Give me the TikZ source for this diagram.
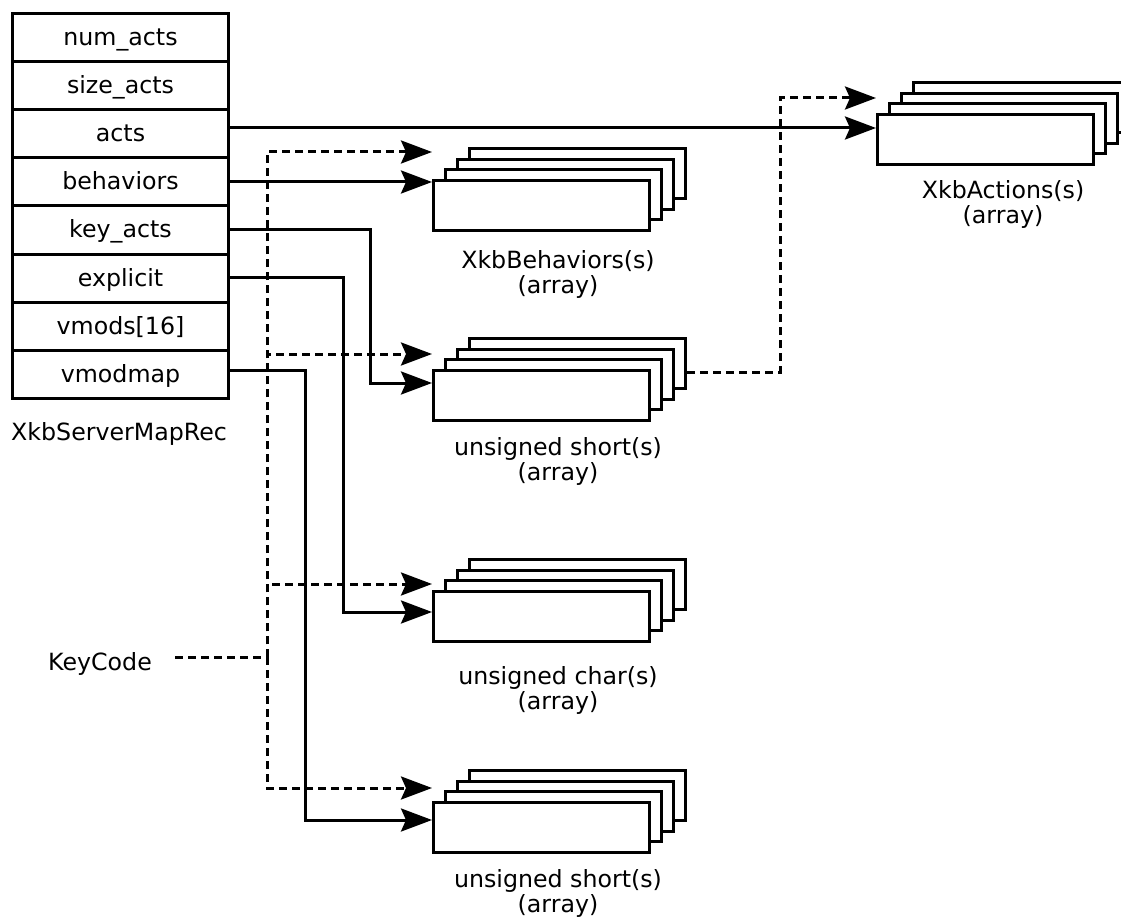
\documentclass[tikz,border=0pt]{standalone}
\usepackage{fontspec}
\setmainfont{DejaVu Sans}
\usetikzlibrary{arrows.meta}
\newcommand\drawstack[3]{%
  \foreach \k in {3,2,1,0} {%
    \node[sheet] (#1-\k) at ({#2+12*\k},{#3-10.67*\k}) {};%
  }%
}
\begin{document}
\begin{tikzpicture}[x=1pt,y=-1pt,
  every node/.style={font=\fontsize{23.7pt}{25pt}\selectfont},
  field/.style={draw, line width=3pt, minimum width=216pt, minimum height=48.1pt,
    inner sep=0pt, text height=16pt, text depth=0pt, anchor=north west},
  sheet/.style={draw, line width=3pt, fill=white, minimum width=216pt,
    minimum height=50pt, inner sep=0pt, anchor=north west},
  conn/.style={line width=3pt, -{Stealth[length=31pt,width=23pt,inset=5pt]}},
  dconn/.style={conn, dash pattern=on 8pt off 5pt},
  dline/.style={line width=3pt, dash pattern=on 8pt off 5pt},
  caption/.style={align=center, anchor=base, inner sep=0pt},
]
\useasboundingbox (0,0) rectangle (1121,920);

% record table
\node[field] (numacts)   at (11,12)    {num\_acts};
\node[field] (sizeacts)  at (11,60.1)  {size\_acts};
\node[field] (acts)      at (11,108.2) {acts};
\node[field] (behaviors) at (11,156.3) {behaviors};
\node[field] (keyacts)   at (11,204.4) {key\_acts};
\node[field] (explicit)  at (11,252.5) {explicit};
\node[field] (vmods)     at (11,300.6) {vmods[16]};
\node[field] (vmodmap)   at (11,348.7) {vmodmap};
\node[anchor=base west, inner sep=0pt] (rec) at (11,440) {XkbServerMapRec};

% stacks
\drawstack{act}{876}{113}
\drawstack{beh}{432}{179}
\drawstack{sh1}{432}{369}
\drawstack{ch}{432}{590}
\drawstack{sh2}{432}{801}

% captions (anchor = baseline of the last line)
\node[caption] (actcap) at (1003,223) {XkbActions(s)\\(array)};
\node[caption] (behcap) at (558,293) {XkbBehaviors(s)\\(array)};
\node[caption] (sh1cap) at (558,480) {unsigned short(s)\\(array)};
\node[caption] (chcap)  at (558,709) {unsigned char(s)\\(array)};
\node[caption] (sh2cap) at (558,912) {unsigned short(s)\\(array)};

% solid connectors
\draw[conn] (acts.east |- 0,128) -- (act-0.west |- 0,128);
\draw[conn] (behaviors.east |- 0,182) -- (beh-0.west |- 0,182);
\draw[conn] (keyacts.east |- 0,229) -| (370,383) -- (sh1-0.west |- 0,383);
\draw[conn] (explicit.east |- 0,277) -| (343,612) -- (ch-0.west |- 0,612);
\draw[conn] (vmodmap.east |- 0,370) -| (305,820) -- (sh2-0.west |- 0,820);

% KeyCode
\node[anchor=base west, inner sep=0pt] (keycode) at (48,670) {KeyCode};
\coordinate (kcstart) at (175,657);
\coordinate (kc) at (267,657);
\draw[dline] (kcstart) -- (kc);
\draw[dconn] (kc) |- (beh-0.west |- 0,152);
\draw[dconn] (kc) |- (sh1-0.west |- 0,354);
\draw[dconn] (kc) |- (ch-0.west |- 0,584);
\draw[dconn] (kc) |- (sh2-0.west |- 0,788);

% key_acts array to actions
\draw[dconn] (sh1-3.east |- 0,372) -| (780,98) -- (act-0.west |- 0,98);
\end{tikzpicture}
\end{document}
